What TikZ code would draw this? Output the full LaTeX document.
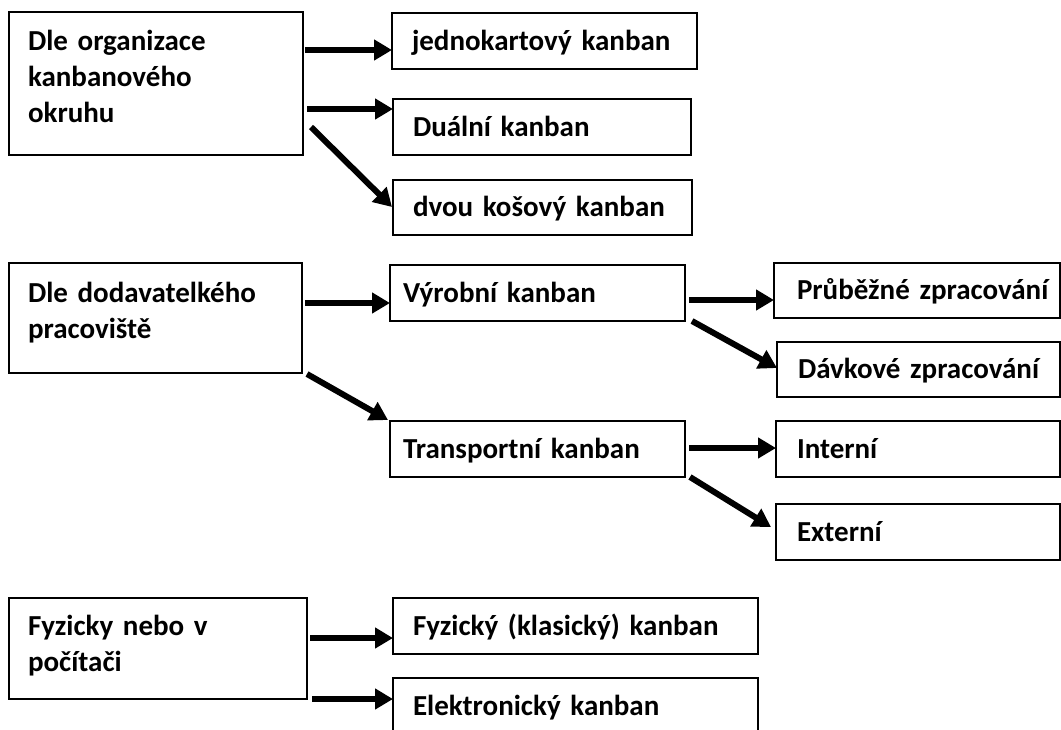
\documentclass[tikz,border=0pt]{standalone}
\usepackage{fontspec}
\setmainfont{Carlito}
\usetikzlibrary{arrows.meta}
\begin{document}
\begin{tikzpicture}[x=1pt,y=-1pt,
  box/.style={draw=black, line width=1.6pt, rectangle, anchor=north west,
    inner ysep=0pt, outer sep=0pt, align=left,
    font=\bfseries\fontsize{29}{36}\selectfont},
  oneline/.style={box, text height=20pt, text depth=2pt,
    execute at begin node={\leavevmode\hbox\bgroup},
    execute at end node={\egroup}},
  arr/.style={line width=6pt, -{Triangle[length=18pt,width=20pt]}}]
\useasboundingbox (0,0) rectangle (1061,729);
\clip (0,0) rectangle (1061,729);

% group 1: organisation of the kanban loop
\node[box, minimum width=294pt, minimum height=143pt, inner xsep=19pt, text width=256pt, text height=20pt, text depth=87pt] (A) at (9,12) {Dle organizace\\kanbanového\\okruhu};
\node[oneline, minimum width=305pt, minimum height=56pt, inner xsep=20pt, text width=265pt] (J) at (392,13) {jednokartový kanban};
\node[oneline, minimum width=298pt, minimum height=56pt, inner xsep=20pt, text width=258pt] (D) at (393,99) {Duální kanban};
\node[oneline, minimum width=299pt, minimum height=55pt, inner xsep=20pt, text width=259pt] (K) at (393,180) {dvou košový kanban};

% group 2: supplying workplace
\node[box, minimum width=293pt, minimum height=110pt, inner xsep=19pt, text width=255pt, text height=20pt, text depth=52pt] (B) at (9,263) {Dle dodavatelkého\\pracoviště};
\node[oneline, minimum width=295pt, minimum height=56pt, inner xsep=13pt, text width=269pt] (V) at (390,265) {Výrobní kanban};
\node[oneline, minimum width=295pt, minimum height=56pt, inner xsep=13pt, text width=269pt] (T) at (390,421) {Transportní kanban};
\node[oneline, minimum width=286pt, minimum height=55pt, inner xsep=23pt, text width=240pt] (P) at (774,263) {Průběžné zpracování};
\node[oneline, minimum width=283pt, minimum height=55pt, inner xsep=21pt, text width=241pt] (Dv) at (777,342) {Dávkové zpracování};
\node[oneline, minimum width=284pt, minimum height=56pt, inner xsep=21pt, text width=242pt] (I) at (776,421) {Interní};
\node[oneline, minimum width=284pt, minimum height=56pt, inner xsep=21pt, text width=242pt] (E) at (776,504) {Externí};

% group 3: physical or electronic
\node[box, minimum width=298pt, minimum height=101pt, inner xsep=19pt, text width=260pt, text height=20pt, text depth=47pt] (C) at (9,598) {Fyzicky nebo v\\počítači};
\node[oneline, minimum width=365pt, minimum height=56pt, inner xsep=20pt, text width=325pt] (F) at (393,598) {Fyzický (klasický) kanban};
\node[oneline, minimum width=365pt, minimum height=56pt, inner xsep=20pt, text width=325pt] (El) at (393,678) {Elektronický kanban};

% connectors
\draw[arr] ([shift={(2,38)}]A.north east) -- ([shift={(0,37)}]J.north west);
\draw[arr] ([shift={(4,97)}]A.north east) -- ([shift={(0,10)}]D.north west);
\draw[arr] ([shift={(8,115)}]A.north east) -- ([shift={(-1,27)}]K.north west);

\draw[arr] ([shift={(3,40)}]B.north east) -- ([shift={(0,38)}]V.north west);
\draw[arr] ([shift={(5,1)}]B.south east) -- ([shift={(-2,-1)}]T.north west);
\draw[arr] ([shift={(4,35)}]V.north east) -- ([shift={(0,37)}]P.north west);
\draw[arr] ([shift={(7,0)}]V.south east) -- ([shift={(0,26)}]Dv.north west);
\draw[arr] ([shift={(4,27)}]T.north east) -- ([shift={(0,27)}]I.north west);
\draw[arr] ([shift={(5,0)}]T.south east) -- ([shift={(-5,23)}]E.north west);

\draw[arr] ([shift={(3,40)}]C.north east) -- ([shift={(0,40)}]F.north west);
\draw[arr] ([shift={(5,0)}]C.south east) -- ([shift={(0,21)}]El.north west);
\end{tikzpicture}
\end{document}
